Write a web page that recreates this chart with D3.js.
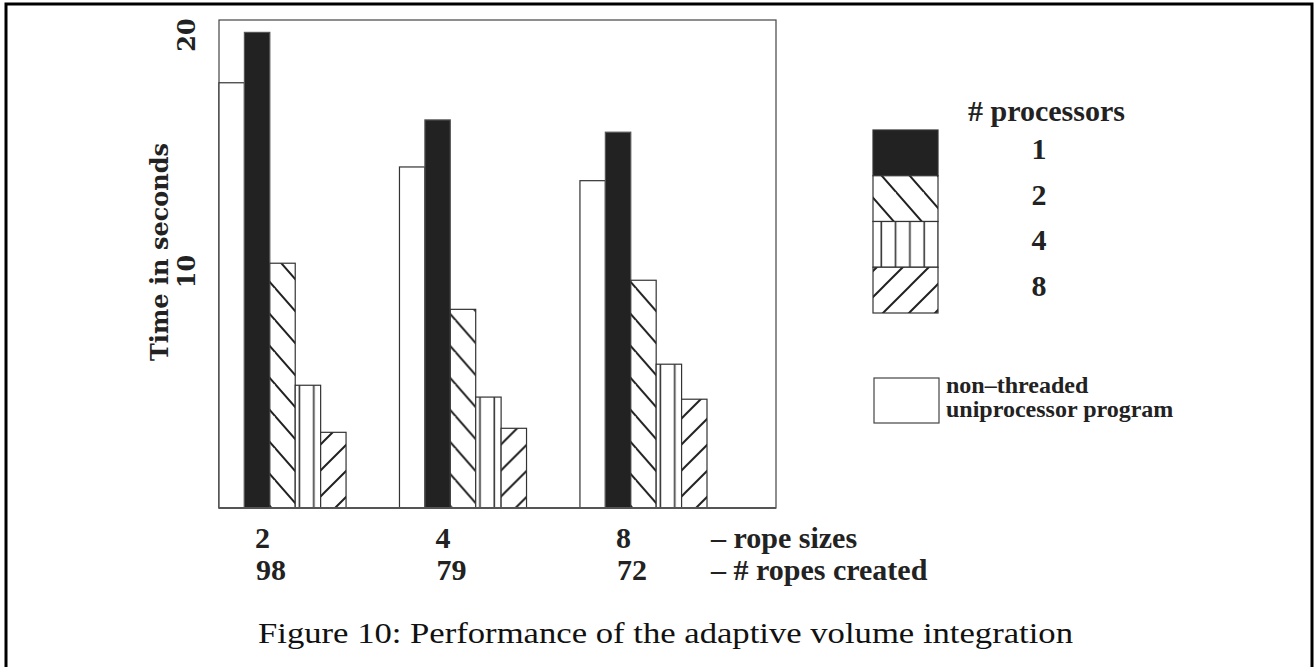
<!DOCTYPE html>
<html>
<head>
<meta charset="utf-8">
<script src="https://cdn.jsdelivr.net/npm/d3@7"></script>
<style>
    body { margin: 0; background: #fff; }
    svg { display: block; }
</style>
</head>
<body>
<svg id="chart" width="1315" height="667"></svg>
<script>

// rope sizes along the bottom, with the number of ropes created
var ropeSizes = ['2', '4', '8'];
var ropesCreated = ['98', '79', '72'];

// time in seconds per group (one value per rope size)
var uniTimes = [17.98, 14.42, 13.84];   // non-threaded uniprocessor program
var p1Times = [20.11, 16.41, 15.89];
var p2Times = [10.35, 8.40, 9.63];
var p4Times = [5.19, 4.69, 6.08];
var p8Times = [3.20, 3.37, 4.60];

var seriesKeys = ['uni', 'p1', 'p2', 'p4', 'p8'];
var legendLabels = ['1', '2', '4', '8'];
var yTicks = [10, 20];

var seriesValues = {
    uni: uniTimes,
    p1: p1Times,
    p2: p2Times,
    p4: p4Times,
    p8: p8Times
};

var fills = {
    uni: '#fff',
    p1: '#222',
    p2: 'url(#hatchBack)',
    p4: 'url(#hatchVert)',
    p8: 'url(#hatchFwd)'
};

var svg = d3.select('#chart');

// patterns
var defs = svg.append('defs');

var back = defs.append('pattern')
    .attr('id', 'hatchBack')
    .attr('patternUnits', 'userSpaceOnUse')
    .attr('width', 28)
    .attr('height', 32);
back.append('rect').attr('width', 28).attr('height', 32).attr('fill', '#fff');
back.append('path')
    .attr('d', 'M-28,-32 L56,64 M0,-32 L28,0 M-28,0 L0,32 M0,32 L28,64')
    .attr('stroke', '#222')
    .attr('stroke-width', 2);

var fwd = defs.append('pattern')
    .attr('id', 'hatchFwd')
    .attr('patternUnits', 'userSpaceOnUse')
    .attr('width', 26)
    .attr('height', 26);
fwd.append('rect').attr('width', 26).attr('height', 26).attr('fill', '#fff');
fwd.append('path')
    .attr('d', 'M-26,52 L52,-26 M-26,26 L26,-26 M0,52 L52,0')
    .attr('stroke', '#222')
    .attr('stroke-width', 2);

var vert = defs.append('pattern')
    .attr('id', 'hatchVert')
    .attr('patternUnits', 'userSpaceOnUse')
    .attr('x', 2)
    .attr('width', 14.3)
    .attr('height', 10);
vert.append('rect').attr('width', 14.3).attr('height', 10).attr('fill', '#fff');
vert.append('line')
    .attr('x1', 7).attr('x2', 7)
    .attr('y1', 0).attr('y2', 10)
    .attr('stroke', '#333')
    .attr('stroke-width', 1.6);

// outer frame (its bottom runs past the page)
svg.append('rect')
    .attr('x', 6)
    .attr('y', 4)
    .attr('width', 1306)
    .attr('height', 720)
    .attr('fill', 'none')
    .attr('stroke', '#000')
    .attr('stroke-width', 3);

var plot = { left: 219, right: 776, top: 20, bottom: 508 };

var y = d3.scaleLinear()
    .domain([0, 20])
    .range([plot.bottom, 35]);

var x0 = d3.scaleBand()
    .domain(ropeSizes)
    .range([219, 707])
    .paddingInner(0.296)
    .paddingOuter(0);

var x1 = d3.scaleBand()
    .domain(seriesKeys)
    .range([0, x0.bandwidth()]);

// plot box
svg.append('rect')
    .attr('x', plot.left)
    .attr('y', plot.top)
    .attr('width', plot.right - plot.left)
    .attr('height', plot.bottom - plot.top)
    .attr('fill', 'none')
    .attr('stroke', '#444')
    .attr('stroke-width', 1.2);

// bars
var groups = svg.selectAll('.group')
    .data(ropeSizes)
    .enter()
    .append('g')
        .attr('class', 'group')
        .attr('transform', function(d) {
            return 'translate(' + x0(d) + ',0)';
        });

groups.selectAll('rect')
    .data(function(d, i) {
        return seriesKeys.map(function(k) {
            return { key: k, value: seriesValues[k][i] };
        });
    })
    .enter()
    .append('rect')
        .attr('x', function(d) { return x1(d.key); })
        .attr('y', function(d) { return y(d.value); })
        .attr('width', x1.bandwidth())
        .attr('height', function(d) { return y(0) - y(d.value); })
        .attr('fill', function(d) { return fills[d.key]; })
        .attr('stroke', function(d) { return d.key === 'p1' ? '#555' : '#333'; })
        .attr('stroke-width', 1.2);

// base line
svg.append('line')
    .attr('x1', plot.left)
    .attr('x2', plot.right)
    .attr('y1', plot.bottom)
    .attr('y2', plot.bottom)
    .attr('stroke', '#555')
    .attr('stroke-width', 2.2);

// y tick labels and title, rotated
var yFont = '"DejaVu Serif", serif';

svg.selectAll('.ytick')
    .data(yTicks)
    .enter()
    .append('text')
        .attr('class', 'ytick')
        .attr('transform', function(d) {
            return 'translate(195,' + y(d) + ') rotate(-90)';
        })
        .attr('text-anchor', 'middle')
        .attr('font-family', yFont)
        .attr('font-weight', 'bold')
        .attr('font-size', 24)
        .attr('fill', '#222')
        .text(function(d) { return d; });

svg.append('text')
    .attr('transform', 'translate(168,252) rotate(-90)')
    .attr('text-anchor', 'middle')
    .attr('font-family', yFont)
    .attr('font-weight', 'bold')
    .attr('font-size', 24)
    .attr('fill', '#222')
    .text('Time in seconds');

// bottom labels
var labelFont = '"Liberation Serif", serif';

svg.selectAll('.sizeLabel')
    .data(ropeSizes)
    .enter()
    .append('text')
        .attr('class', 'sizeLabel')
        .attr('x', function(d) { return x0(d) + 36; })
        .attr('y', 548)
        .attr('font-family', labelFont)
        .attr('font-weight', 'bold')
        .attr('font-size', 30)
        .attr('fill', '#222')
        .text(function(d) { return d; });

svg.selectAll('.countLabel')
    .data(ropesCreated)
    .enter()
    .append('text')
        .attr('class', 'countLabel')
        .attr('x', function(d, i) { return x0(ropeSizes[i]) + 37; })
        .attr('y', 580)
        .attr('font-family', labelFont)
        .attr('font-weight', 'bold')
        .attr('font-size', 30)
        .attr('fill', '#222')
        .text(function(d) { return d; });

svg.append('text')
    .attr('x', 711)
    .attr('y', 548)
    .attr('font-family', labelFont)
    .attr('font-weight', 'bold')
    .attr('font-size', 30)
    .attr('fill', '#222')
    .text('\u2013 rope sizes');

svg.append('text')
    .attr('x', 711)
    .attr('y', 580)
    .attr('font-family', labelFont)
    .attr('font-weight', 'bold')
    .attr('font-size', 30)
    .attr('fill', '#222')
    .text('\u2013 # ropes created');

// legend
svg.append('text')
    .attr('x', 968)
    .attr('y', 121)
    .attr('font-family', labelFont)
    .attr('font-weight', 'bold')
    .attr('font-size', 30)
    .attr('fill', '#222')
    .text('# processors');

var legendY = d3.scaleBand()
    .domain(legendLabels)
    .range([130, 313]);

var legendKeys = ['p1', 'p2', 'p4', 'p8'];

svg.selectAll('.legendBox')
    .data(legendLabels)
    .enter()
    .append('rect')
        .attr('class', 'legendBox')
        .attr('x', 873)
        .attr('y', function(d) { return legendY(d); })
        .attr('width', 65)
        .attr('height', legendY.bandwidth())
        .attr('fill', function(d, i) { return fills[legendKeys[i]]; })
        .attr('stroke', '#333')
        .attr('stroke-width', 1.2);

svg.selectAll('.legendText')
    .data(legendLabels)
    .enter()
    .append('text')
        .attr('class', 'legendText')
        .attr('x', 1039)
        .attr('y', function(d) { return legendY(d) + legendY.bandwidth() / 2 + 6; })
        .attr('text-anchor', 'middle')
        .attr('font-family', labelFont)
        .attr('font-weight', 'bold')
        .attr('font-size', 30)
        .attr('fill', '#222')
        .text(function(d) { return d; });

svg.append('rect')
    .attr('x', 874)
    .attr('y', 378)
    .attr('width', 65)
    .attr('height', 45)
    .attr('fill', '#fff')
    .attr('stroke', '#444')
    .attr('stroke-width', 1.2);

svg.append('text')
    .attr('x', 946)
    .attr('y', 393)
    .attr('font-family', labelFont)
    .attr('font-weight', 'bold')
    .attr('font-size', 24)
    .attr('fill', '#222')
    .text('non\u2013threaded');

svg.append('text')
    .attr('x', 946)
    .attr('y', 417)
    .attr('font-family', labelFont)
    .attr('font-weight', 'bold')
    .attr('font-size', 24)
    .attr('fill', '#222')
    .text('uniprocessor program');

// caption
svg.append('text')
    .attr('x', 258)
    .attr('y', 643)
    .attr('font-family', labelFont)
    .attr('font-size', 30)
    .attr('fill', '#111')
    .attr('textLength', 815)
    .attr('lengthAdjust', 'spacingAndGlyphs')
    .text('Figure 10: Performance of the adaptive volume integration');

</script>
</body>
</html>
